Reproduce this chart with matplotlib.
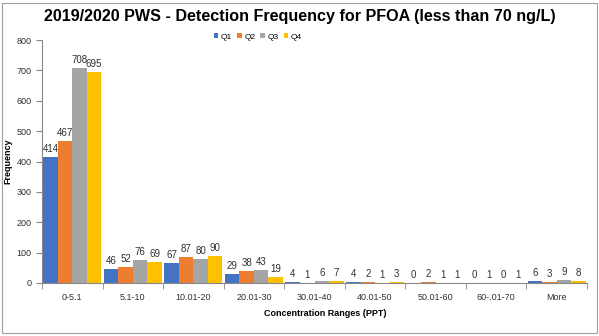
import matplotlib.pyplot as plt
import numpy as np
from matplotlib.patches import Rectangle

plt.rcParams['font.family'] = ['Liberation Sans', 'DejaVu Sans']

categories = ['0-5.1', '5.1-10', '10.01-20', '20.01-30', '30.01-40',
              '40.01-50', '50.01-60', '60-.01-70', 'More']
q1 = [414, 46, 67, 29, 4, 4, 0, 0, 6]
q2 = [467, 52, 87, 38, 1, 2, 2, 1, 3]
q3 = [708, 76, 80, 43, 6, 1, 1, 0, 9]
q4 = [695, 69, 90, 19, 7, 3, 1, 1, 8]
series = ['Q1', 'Q2', 'Q3', 'Q4']
colors = ['#4472C4', '#ED7D31', '#A5A5A5', '#FFC000']

fig = plt.figure(figsize=(5.99, 3.36), dpi=100)
ax = fig.add_axes([42 / 599, 1 - 283 / 336, 545 / 599, 243 / 336])

# chart border
fig.patches.append(Rectangle((2 / 599, 3 / 336), 595 / 599, 330 / 336,
                             transform=fig.transFigure, fill=False,
                             edgecolor='#A0A0A0', linewidth=0.8))

x = np.arange(len(categories))
w = 0.24
for i, (vals, c, name) in enumerate(zip([q1, q2, q3, q4], colors, series)):
    pos = x + (i - 1.5) * w
    ax.bar(pos, vals, width=w, color=c, label=name)
    for xx, v in zip(pos, vals):
        ax.text(xx, v + 10, str(v), ha='center', va='bottom', fontsize=7,
                color='#303030')

ax.set_xlim(-0.5, len(categories) - 0.5)
ax.set_ylim(0, 800)
ax.set_yticks(range(0, 801, 100))
ax.set_xticks(x)
ax.set_xticklabels(categories)
ax.set_xticks(np.arange(-0.5, len(categories)), minor=True)
ax.tick_params(axis='x', which='major', length=0, labelsize=6.5,
               colors='#303030', pad=7)
ax.tick_params(axis='x', which='minor', length=4, color='#888888')
ax.tick_params(axis='y', labelsize=6.5, colors='#303030', length=4,
               color='#888888')
for s in ['top', 'right']:
    ax.spines[s].set_visible(False)
ax.spines['left'].set_color('#888888')
ax.spines['bottom'].set_color('#888888')

ax.set_ylabel('Frequency', fontsize=6.5, fontweight='bold')
ax.yaxis.set_label_coords(-30 / 545, 0.5)
ax.set_xlabel('Concentration Ranges (PPT)', fontsize=6.5, fontweight='bold')
ax.xaxis.set_label_coords(0.52, -26 / 243)

fig.text(0.5, 1 - 16 / 336, '2019/2020 PWS - Detection Frequency for PFOA (less than 70 ng/L)',
         ha='center', va='center', fontsize=11.6, fontweight='bold')
ax.legend(loc='center', bbox_to_anchor=(0.396, 1 + 3 / 243), ncol=4,
          frameon=False, fontsize=6, handlelength=0.55, handleheight=0.55,
          handletextpad=0.3, columnspacing=0.6)

fig.savefig('out.png', dpi=100)
